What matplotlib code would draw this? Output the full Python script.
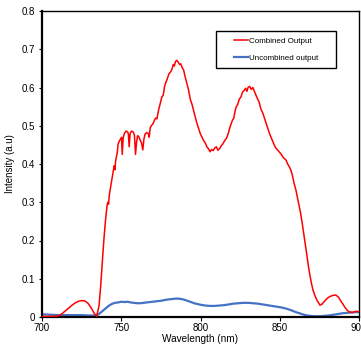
import matplotlib
matplotlib.use('Agg')
import matplotlib.pyplot as plt
from matplotlib.patches import Rectangle

plt.rcParams['font.family'] = ['Liberation Sans', 'DejaVu Sans']

# combined output (red)
wl_comb = [700, 703, 706, 709, 711, 713, 715, 717, 719, 721, 723, 725, 727, 729, 731, 733, 734.5,
           736, 737, 738, 739, 740, 741, 741.5, 742, 742.5, 743.5, 744.5, 745.5, 746, 746.5, 747.5,
           748, 748.8, 749.5, 750.2, 750.6, 751.2, 752, 753, 754, 754.5, 755, 755.6, 756.5, 757.5,
           758.3, 759, 759.6, 760.3, 761, 762, 762.8, 763.6, 764.3, 765, 766, 767, 767.6, 768.3,
           769, 770, 771, 771.7, 772.5, 773.5, 774.5, 775.6, 776.5, 777.2, 778, 779, 780, 781, 782,
           782.8, 783.5, 784.2, 785, 786, 786.8, 787.5, 788.5, 789.4, 790.2, 791, 792, 792.5, 793.5,
           794.5, 795.6, 796.5, 797.5, 798.8, 799.8, 801, 801.9, 803, 804, 805, 806, 807, 808, 809,
           810, 811, 812, 813, 814, 815.4, 816.5, 817.5, 818.5, 819.4, 820.2, 821, 821.8, 822.5,
           823.5, 824.5, 825.5, 826.5, 827.5, 828.5, 829.3, 830, 831, 832, 833, 834, 835, 836, 837,
           838, 839.4, 840.5, 841.5, 842.5, 843.5, 844.5, 845.5, 846.5, 847.5, 848.8, 850, 851, 852,
           853, 854, 855, 856, 857, 858, 859, 860.2, 861, 862, 863, 864, 865, 866, 867, 868, 869,
           870, 871, 872, 873, 874, 875.4, 876.5, 878, 879.5, 881, 882.5, 884, 885.5, 887, 888.5,
           889.5, 891, 892.5, 894, 896, 898, 900]
int_comb = [0.002, 0.001, 0.002, 0.002, 0.004, 0.010, 0.017, 0.024, 0.031, 0.037, 0.041, 0.043,
            0.042, 0.036, 0.024, 0.009, 0.002,
            0.030, 0.080, 0.140, 0.200, 0.250, 0.290, 0.300, 0.295, 0.320, 0.345, 0.370, 0.395,
            0.385, 0.410, 0.430, 0.452, 0.460, 0.465, 0.470, 0.425, 0.468, 0.480, 0.486, 0.484,
            0.478, 0.445, 0.480, 0.486, 0.484, 0.476, 0.425, 0.455, 0.474, 0.472, 0.462, 0.455,
            0.437, 0.465, 0.478, 0.482, 0.480, 0.470, 0.495, 0.500, 0.505, 0.515, 0.520, 0.518,
            0.540, 0.557, 0.575, 0.580, 0.600, 0.612, 0.622, 0.635, 0.640, 0.648, 0.660, 0.656,
            0.668, 0.671, 0.666, 0.660, 0.662, 0.652, 0.645, 0.630, 0.617, 0.600, 0.593, 0.570,
            0.558, 0.540, 0.525, 0.510, 0.493, 0.480, 0.470, 0.462, 0.455, 0.445, 0.440, 0.432,
            0.438, 0.435, 0.442, 0.445, 0.436, 0.440, 0.447, 0.452, 0.462, 0.468, 0.480, 0.495,
            0.506, 0.515, 0.520, 0.538, 0.549, 0.556, 0.570, 0.575, 0.588, 0.592, 0.598, 0.590,
            0.600, 0.603, 0.595, 0.600, 0.590, 0.580, 0.570, 0.562, 0.545, 0.532, 0.518, 0.505,
            0.492, 0.480, 0.470, 0.460, 0.450, 0.442, 0.436, 0.430, 0.425, 0.418, 0.414, 0.410,
            0.400, 0.393, 0.384, 0.370, 0.350, 0.332, 0.315, 0.295, 0.275, 0.250, 0.222, 0.195,
            0.165, 0.135, 0.110, 0.088, 0.070, 0.058, 0.048, 0.040, 0.031, 0.033, 0.040, 0.047,
            0.052, 0.055, 0.057, 0.057, 0.052, 0.042, 0.036, 0.026, 0.018, 0.013, 0.012, 0.015,
            0.014]

# uncombined output (blue)
wl_unc = [700, 705, 710, 715, 720, 725, 730, 734, 736, 738, 740, 742, 744, 746, 748, 750, 752,
          754, 756, 758, 760, 762, 764, 766, 768, 770, 772, 774, 776, 778, 780, 782, 784, 786,
          788, 790, 792, 794, 796, 798, 800, 803, 806, 809, 812, 815, 818, 821, 824, 827, 830,
          833, 836, 839, 842, 845, 848, 851, 854, 857, 860, 863, 866, 869, 872, 875, 878, 881,
          884, 887, 890, 893, 896, 900]
int_unc = [0.007, 0.006, 0.005, 0.005, 0.005, 0.005, 0.004, 0.004, 0.008, 0.015, 0.022, 0.029,
           0.034, 0.037, 0.038, 0.040, 0.039, 0.040, 0.038, 0.037, 0.036, 0.036, 0.037, 0.038,
           0.039, 0.040, 0.041, 0.042, 0.043, 0.045, 0.046, 0.047, 0.048, 0.048, 0.047, 0.045,
           0.042, 0.039, 0.036, 0.034, 0.032, 0.030, 0.029, 0.029, 0.030, 0.031, 0.033, 0.035,
           0.036, 0.037, 0.037, 0.036, 0.035, 0.033, 0.031, 0.029, 0.027, 0.025, 0.022, 0.018,
           0.013, 0.009, 0.005, 0.003, 0.002, 0.002, 0.003, 0.004, 0.006, 0.008, 0.010, 0.011,
           0.012, 0.013]

fig = plt.figure(figsize=(3.61, 3.45), dpi=100)
ax = fig.add_axes([42 / 361, 1 - 317 / 345, 317 / 361, 306 / 345])

ax.plot(wl_comb, int_comb, color='#ff0000', lw=1.1, label='Combined Output', zorder=3)
ax.plot(wl_unc, int_unc, color='#4472c4', lw=1.6, label='Uncombined output', zorder=2)

ax.set_xlim(700, 900)
ax.set_ylim(0, 0.8)
ax.set_xticks([700, 750, 800, 850, 900])
ax.set_yticks([0, 0.1, 0.2, 0.3, 0.4, 0.5, 0.6, 0.7, 0.8])
ax.set_yticklabels(['0', '0.1', '0.2', '0.3', '0.4', '0.5', '0.6', '0.7', '0.8'])
ax.tick_params(axis='x', direction='out', length=3, width=0.8, labelsize=7, pad=1.5)
ax.tick_params(axis='y', direction='out', length=2, width=0.8, labelsize=7, pad=3)
for s in ax.spines.values():
    s.set_linewidth(1.0)
ax.spines['left'].set_linewidth(1.6)
ax.spines['bottom'].set_linewidth(1.6)

ax.set_xlabel('Wavelength (nm)', fontsize=7.2)
ax.xaxis.set_label_coords(0.5, -0.072)
ax.xaxis.label.set_va('center')
ax.set_ylabel('Intensity (a.u)', fontsize=7, labelpad=5)

# legend box drawn separately so padding can differ horizontally / vertically
box = Rectangle((0.549, 0.814), 0.378, 0.121, transform=ax.transAxes, facecolor='white',
                edgecolor='black', lw=1.0, zorder=4)
ax.add_patch(box)
leg = ax.legend(loc='center', bbox_to_anchor=(0.738, 0.8745), fontsize=5.8, frameon=False,
                handlelength=1.75, handletextpad=0.15, labelspacing=1.2, borderpad=0)
leg.set_zorder(5)

fig.savefig('out.png', dpi=100)
